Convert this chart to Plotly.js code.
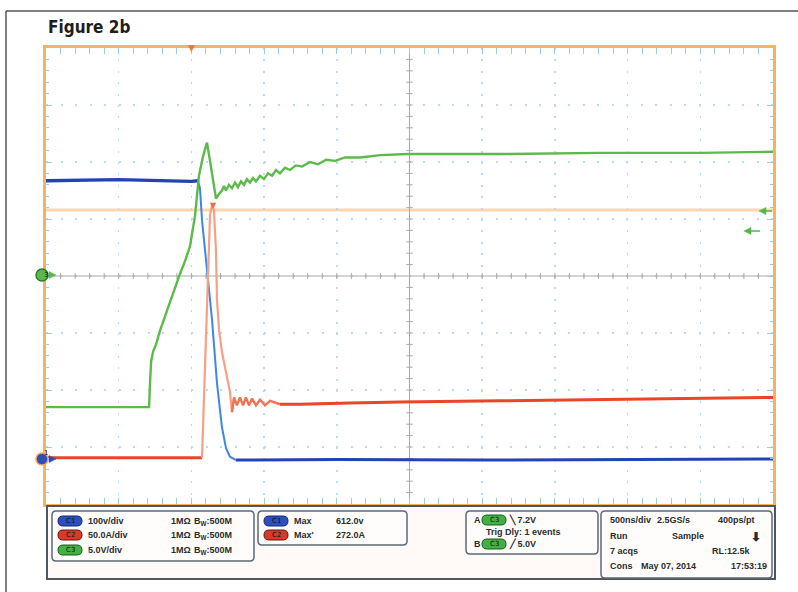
<!DOCTYPE html>
<html><head><meta charset="utf-8">
<script src="https://cdn.plot.ly/plotly-3.0.1.min.js"></script>
<style>html,body{margin:0;padding:0;background:#fff;}#chart{width:798px;height:592px;}</style>
</head><body><div id="chart"></div>
<script>
// ---- data (time in ns relative to trigger, 500 ns/div) ----
const c1Time  = [-1000, -500, 0, 45, 59, 73, 94, 114, 142, 176, 210, 238, 265, 307, 1000, 2000, 3000, 4000];
const c1Volts = [488, 490, 487, 488, 475, 419, 367, 319, 244, 133, 56, 19, 4, -2, -1, -2, -1, 0];

const c2Time = [-1000, -500, 0, 73, 87, 100, 114, 128, 142, 155, 169, 176, 190, 210, 238, 265, 279, 293, 313, 334, 355, 375, 396, 417, 444, 472, 506, 541, 609, 747, 1091, 1435, 2123, 2811, 3499, 4000];
const c2Amps = [0, 0, 0, 0, 51, 103, 156, 213, 222, 217, 182, 139, 112, 93, 75, 58, 40, 53, 46, 53, 46, 53, 46, 52, 46, 51, 46, 50, 47, 47, 48, 49, 50, 51, 52, 53];

const c3Time = [-1000, -291, -284, -277, -263, -243, -216, -181, -147, -113, -78, -44, -10, 25, 52, 80, 107, 128, 149, 169, 190, 210, 224, 238, 258, 279, 300, 320, 341, 362, 382, 403, 424, 444, 472, 499, 527, 555, 582, 609, 644, 678, 719, 761, 816, 871, 926, 988, 1057, 1160, 1298, 1490, 2123, 2811, 3499, 4000];
const c3Volts = [-11.5, -11.5, -9.2, -7.5, -6.6, -6.0, -4.8, -3.5, -2.2, -1.1, 0.2, 1.3, 2.6, 5.3, 8.8, 10.5, 11.7, 10.1, 8.3, 6.8, 7.2, 7.5, 7.9, 7.5, 8.0, 7.7, 8.2, 7.8, 8.3, 8.0, 8.5, 8.2, 8.6, 8.3, 8.8, 8.5, 9.0, 8.8, 9.3, 9.0, 9.5, 9.3, 9.7, 9.6, 10.0, 9.8, 10.2, 10.1, 10.4, 10.4, 10.6, 10.7, 10.7, 10.8, 10.8, 10.9];

const channelNames = ['C1', 'C2', 'C3'];
const channelScaleText = ['100v/div', '50.0A/div', '5.0V/div'];
const measureNames = ['Max', "Max'"];
const measureValues = ['612.0v', '272.0A'];
const triggerLevels = ['7.2V', '5.0V'];
const horizontalInfo = [['500ns/div', '2.5GS/s', '400ps/pt'], ['Run', 'Sample'], ['7 acqs', 'RL:12.5k'], ['Cons', 'May 07, 2014', '17:53:19']];

// channel vertical settings: units per division and ground position (divisions from centre)
const ch1 = {perDiv: 100, pos: -3.21};
const ch2 = {perDiv: 50, pos: -3.19};
const ch3 = {perDiv: 5, pos: 0.0};
const rng = c => [(-4 - c.pos) * c.perDiv, (4 - c.pos) * c.perDiv];

// ---- layout helpers (pixel -> paper) ----
const L = 46, R = 773, T = 48, B = 504;
const X = px => (px - L) / (R - L);
const Y = py => (B - py) / (B - T);
const P = (x, y) => X(x) + ',' + Y(y);
function rr(x0, y0, x1, y1, r) {
  return `M${P(x0 + r, y0)} L${P(x1 - r, y0)} Q${P(x1, y0)} ${P(x1, y0 + r)} L${P(x1, y1 - r)} Q${P(x1, y1)} ${P(x1 - r, y1)} L${P(x0 + r, y1)} Q${P(x0, y1)} ${P(x0, y1 - r)} L${P(x0, y0 + r)} Q${P(x0, y0)} ${P(x0 + r, y0)} Z`;
}

const blueDark = '#2343b5', blueLight = '#3f86e8';
const redMain = '#ea4527', redLight = '#f7a086';
const green = '#5cba4b';

const traces = [
  {x: c3Time, y: c3Volts, yaxis: 'y4', mode: 'lines', line: {color: green, width: 2.4}, hoverinfo: 'skip'},
  {x: c2Time.slice(0, 4), y: c2Amps.slice(0, 4), yaxis: 'y3', mode: 'lines', line: {color: redMain, width: 3}, hoverinfo: 'skip'},
  {x: c2Time.slice(3, 17), y: c2Amps.slice(3, 17), yaxis: 'y3', mode: 'lines', line: {color: redLight, width: 2.2}, hoverinfo: 'skip'},
  {x: c2Time.slice(16, 29), y: c2Amps.slice(16, 29), yaxis: 'y3', mode: 'lines', line: {color: '#f07352', width: 2.4}, hoverinfo: 'skip'},
  {x: c2Time.slice(28), y: c2Amps.slice(28), yaxis: 'y3', mode: 'lines', line: {color: redMain, width: 3}, hoverinfo: 'skip'},
  {x: c1Time.slice(0, 4), y: c1Volts.slice(0, 4), yaxis: 'y2', mode: 'lines', line: {color: blueDark, width: 3.4}, hoverinfo: 'skip'},
  {x: c1Time.slice(3, 14), y: c1Volts.slice(3, 14), yaxis: 'y2', mode: 'lines', line: {color: blueLight, width: 2}, hoverinfo: 'skip'},
  {x: c1Time.slice(13), y: c1Volts.slice(13), yaxis: 'y2', mode: 'lines', line: {color: blueDark, width: 3}, hoverinfo: 'skip'}
];

const tickBlue = '#9ccbea';
const edge = '#f3b462';
const shapes = [];
const annotations = [];

// centre cross-hair and its minor ticks
shapes.push({type: 'line', xref: 'x', yref: 'y', x0: 1500, x1: 1500, y0: -4, y1: 4, line: {color: '#a9a9a9', width: 1}, layer: 'between'});
shapes.push({type: 'line', xref: 'x', yref: 'y', x0: -1000, x1: 4000, y0: 0, y1: 0, line: {color: '#a9a9a9', width: 1}, layer: 'between'});
for (let i = -19; i <= 19; i++) {
  if (i === 0) continue;
  const yv = i * 0.2;
  shapes.push({type: 'line', xref: 'x', yref: 'y', x0: 1500 - 22, x1: 1500 + 22, y0: yv, y1: yv, line: {color: '#a9a9a9', width: 1}, layer: 'between'});
}
for (let i = 1; i <= 49; i++) {
  const xv = -1000 + i * 100;
  if (xv === 1500) continue;
  shapes.push({type: 'line', xref: 'x', yref: 'y', x0: xv, x1: xv, y0: -0.055, y1: 0.055, line: {color: '#a9a9a9', width: 1}, layer: 'between'});
}
// orange cursor line
shapes.push({type: 'line', xref: 'paper', yref: 'paper', x0: 0, x1: 1, y0: Y(210), y1: Y(210), line: {color: '#fdd6ad', width: 3}, layer: 'between'});

// outer frame
shapes.push({type: 'line', xref: 'paper', yref: 'paper', x0: X(6), x1: X(800), y0: Y(11), y1: Y(11), line: {color: '#555', width: 1.5}});
shapes.push({type: 'line', xref: 'paper', yref: 'paper', x0: X(6), x1: X(6), y0: Y(11), y1: Y(600), line: {color: '#555', width: 1.5}});

// bottom info area
shapes.push({type: 'rect', xref: 'paper', yref: 'paper', x0: X(47), x1: X(775), y0: Y(506), y1: Y(579), fillcolor: '#fffaf7', line: {color: '#4e565e', width: 2}});
const panels = [[52, 511, 254, 561], [258, 511, 407, 545], [466, 511, 598, 554], [601, 511, 772, 578]];
panels.forEach(p => shapes.push({type: 'path', xref: 'paper', yref: 'paper', path: rr(p[0], p[1], p[2], p[3], 4), fillcolor: 'rgba(255,255,255,0.6)', line: {color: '#5d6873', width: 1.5}}));

const badgeCol = {C1: ['#2c4fbd', '#17286a'], C2: ['#d8392a', '#6e150c'], C3: ['#43b043', '#1b5e1e']};
function badge(x0, cy, ch) {
  shapes.push({type: 'path', xref: 'paper', yref: 'paper', path: rr(x0, cy - 5, x0 + 24, cy + 5, 5), fillcolor: badgeCol[ch][0], line: {color: badgeCol[ch][1], width: 1}});
  annotations.push({xref: 'paper', yref: 'paper', x: X(x0 + 12), y: Y(cy), text: ch, showarrow: false, xanchor: 'center', yanchor: 'middle', font: {family: 'DejaVu Sans, Liberation Sans, Arial', size: 7, color: '#101010'}});
}
const txtFont = {family: 'Liberation Sans, Arial, sans-serif', size: 9, color: '#2b2b2b', weight: 'bold'};
function txt(px, py, s, anchor, size) {
  annotations.push({xref: 'paper', yref: 'paper', x: X(px), y: Y(py), text: s, showarrow: false, xanchor: anchor || 'left', yanchor: 'middle', font: Object.assign({}, txtFont, size ? {size: size} : {})});
}

// panel 1: channel scales
const rows1 = [521, 535, 550];
channelNames.forEach((ch, i) => {
  badge(58, rows1[i], ch);
  txt(86, rows1[i], '<b>' + channelScaleText[i] + '</b>');
  txt(169, rows1[i], '<b>1MΩ</b>');
  txt(192, rows1[i], '<b>B<sub>W</sub>:500M</b>');
});
// panel 2: measurements
const rows2 = [521, 535];
measureNames.forEach((m, i) => {
  badge(264, rows2[i], channelNames[i]);
  txt(292, rows2[i], '<b>' + m + '</b>');
  txt(334, rows2[i], '<b>' + measureValues[i] + '</b>');
});
// panel 3: trigger
txt(472, 520, '<b>A</b>');
badge(482, 520, 'C3');
txt(507, 520, '<b>╲ ' + triggerLevels[0] + '</b>');
txt(484, 532, '<b>Trig Dly: 1 events</b>');
txt(472, 544, '<b>B</b>');
badge(482, 544, 'C3');
txt(507, 544, '<b>╱ ' + triggerLevels[1] + '</b>');
// panel 4: horizontal
const rows4 = [520, 536, 551, 566];
txt(608, rows4[0], '<b>' + horizontalInfo[0][0] + '</b>');
txt(655, rows4[0], '<b>' + horizontalInfo[0][1] + '</b>');
txt(716, rows4[0], '<b>' + horizontalInfo[0][2] + '</b>');
txt(608, rows4[1], '<b>' + horizontalInfo[1][0] + '</b>');
txt(670, rows4[1], '<b>' + horizontalInfo[1][1] + '</b>');
txt(756, rows4[1] + 1, '<b>⬇</b>', 'center', 12);
txt(608, rows4[2], '<b>' + horizontalInfo[2][0] + '</b>');
txt(710, rows4[2], '<b>' + horizontalInfo[2][1] + '</b>');
txt(608, rows4[3], '<b>' + horizontalInfo[3][0] + '</b>');
txt(639, rows4[3], '<b>' + horizontalInfo[3][1] + '</b>');
txt(729, rows4[3], '<b>' + horizontalInfo[3][2] + '</b>');

// title
annotations.push({xref: 'paper', yref: 'paper', x: X(46), y: Y(27), text: '<b>Figure 2b</b>', showarrow: false, xanchor: 'left', yanchor: 'middle', font: {family: 'Liberation Sans Narrow, DejaVu Sans Condensed, Arial Narrow, Liberation Sans, sans-serif', size: 17, color: '#1e1e1e'}});

// channel ground markers on left
function gndMarker(py, fill, ring, label) {
  shapes.push({type: 'path', xref: 'paper', yref: 'paper', path: `M${P(49, py - 3.5)} L${P(56, py)} L${P(49, py + 3.5)} Z`, fillcolor: fill, line: {color: fill, width: 0.5}});
  shapes.push({type: 'circle', xref: 'paper', yref: 'paper', xsizemode: 'pixel', ysizemode: 'pixel', xanchor: X(42), yanchor: Y(py), x0: -6, x1: 6, y0: -6, y1: 6, fillcolor: fill, line: {color: ring, width: 1.5}});
  annotations.push({xref: 'paper', yref: 'paper', x: X(42), y: Y(py), text: label, showarrow: false, font: {family: 'DejaVu Sans, Arial', size: 7, color: '#111'}});
}
gndMarker(275, '#5cb84a', '#2f7a2a', '3');
gndMarker(459, '#2c4fbd', '#f3a35c', '1');

// trigger position marker (top) and max marker on C2
annotations.push({xref: 'x', yref: 'paper', x: 0, y: 1, text: '▼', showarrow: false, yanchor: 'middle', font: {family: 'DejaVu Sans', size: 9, color: '#f07a1e'}});
annotations.push({xref: 'x', yref: 'paper', x: 149, y: Y(206), text: '▼', showarrow: false, yanchor: 'middle', font: {family: 'DejaVu Sans', size: 8, color: '#f06a3a'}});

// trigger level arrows on right
function leftArrow(xHead, xTail, py) {
  shapes.push({type: 'line', xref: 'paper', yref: 'paper', x0: X(xHead + 4), x1: X(xTail), y0: Y(py), y1: Y(py), line: {color: '#4fb845', width: 1.5}});
  shapes.push({type: 'path', xref: 'paper', yref: 'paper', path: `M${P(xHead, py)} L${P(xHead + 7, py - 3.5)} L${P(xHead + 7, py + 3.5)} Z`, fillcolor: '#4fb845', line: {color: '#4fb845', width: 0.5}});
}
leftArrow(759, 772, 211);
leftArrow(744, 760, 231);

const axisCommon = {
  showline: true, linecolor: edge, linewidth: 3, mirror: 'allticks',
  ticks: 'inside', ticklen: 6, tickcolor: tickBlue, tickwidth: 1,
  showticklabels: false, zeroline: false, fixedrange: true,
  showgrid: true, gridcolor: '#bcdaf0', gridwidth: 1.5
};

const layout = {
  width: 798, height: 592,
  margin: {l: L, r: 798 - R, t: T, b: 592 - B, pad: 0},
  paper_bgcolor: '#ffffff', plot_bgcolor: '#ffffff',
  showlegend: false,
  xaxis: Object.assign({}, axisCommon, {range: [-1000, 4000], tick0: 0, dtick: 500, griddash: '2px,9.4px',
    minor: {ticks: 'inside', ticklen: 3, dtick: 100, tickcolor: tickBlue, showgrid: false}}),
  yaxis: Object.assign({}, axisCommon, {range: [-4, 4], tick0: 0, dtick: 1, griddash: '2px,12.5px',
    minor: {ticks: 'inside', ticklen: 3, dtick: 0.2, tickcolor: tickBlue, showgrid: false}}),
  yaxis2: {overlaying: 'y', range: rng(ch1), visible: false, fixedrange: true},
  yaxis3: {overlaying: 'y', range: rng(ch2), visible: false, fixedrange: true},
  yaxis4: {overlaying: 'y', range: rng(ch3), visible: false, fixedrange: true},
  shapes: shapes,
  annotations: annotations
};

Plotly.newPlot('chart', traces, layout, {displayModeBar: false, staticPlot: true});
</script>
</body></html>
